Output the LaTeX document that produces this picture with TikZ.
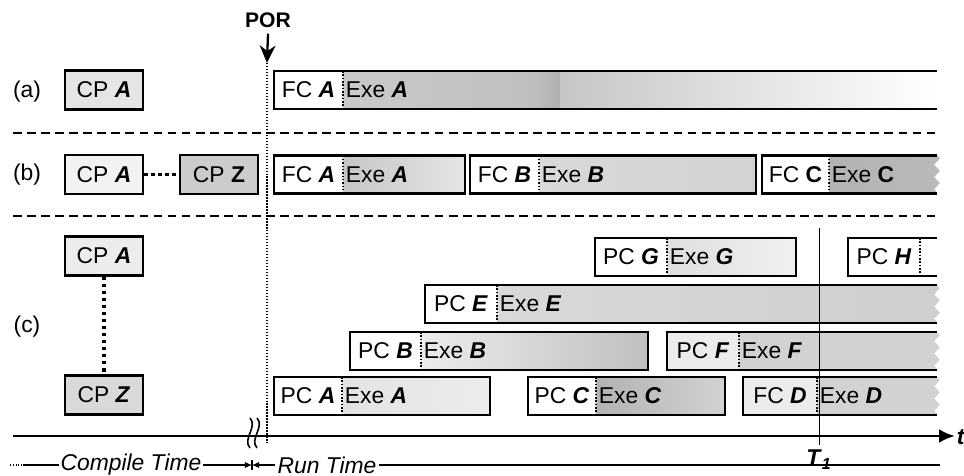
\documentclass[tikz,border=0pt]{standalone}
\usepackage{fontspec}
\setmainfont{Liberation Sans}
\usepackage{tikz}
\usetikzlibrary{arrows.meta,decorations.pathmorphing}
\newcommand{\bli}[1]{\textbf{\textit{#1}}}

\begin{document}
\begin{tikzpicture}[
  x=0.02cm, y=-0.02cm,
  font=\fontsize{13}{15}\selectfont,
  outl/.style={line width=1.3pt},
  divl/.style={densely dotted, line width=0.9pt},
  cpbox/.style={draw, line width=1.3pt, minimum width=1.56cm,
                minimum height=0.78cm, inner sep=0pt},
  cpdots/.style={dotted, line width=2pt},
  sepl/.style={line width=1pt, dash pattern=on 5pt off 3pt},
  zz/.style={decoration={zigzag, segment length=7pt, amplitude=1.6pt}},
  tline/.style={line width=0.6pt},
  lbl/.style={inner sep=1.5pt}
]
\useasboundingbox (0,0) rectangle (964,476);

% ---- X positions ----
\def\xpor{267}  % power-on reset
\def\xtone{819} % T_1
\def\xe{937}    % open bar ends

% ---- POR marker ----
\node[font=\fontsize{12}{14}\selectfont\bfseries] (por) at (268,20) {POR};
\coordinate (portip) at (\xpor,63);
\coordinate (porbot) at (\xpor,443);
\draw[line width=1.3pt, -{Stealth[length=10pt,width=9pt]}] (por.south) -- (portip);
\draw[divl, line width=0.7pt] (portip) -- (porbot);

% ---- row labels ----
\node (rowa) at (27,92) {(a)};
\node (rowb) at (27,175) {(b)};
\node (rowc) at (27,327) {(c)};

% ---- separators ----
\draw[sepl] (13,133) -- (940,133);
\draw[sepl] (13,216) -- (940,216);

% ----- (a) -----
\node[cpbox, fill=gray!20] (cpaA) at (104,90) {CP \bli{A}};
\fill[white] (274,71) rectangle (343,109);
\shade[left color=gray!42, right color=gray!50] (343,71) rectangle (530,109);
\shade[left color=gray!50, right color=gray!62] (530,71) rectangle (560,109);
\shade[left color=gray!45, right color=white] (560,71) rectangle (\xe,109);
\draw[divl] (343,71) -- (343,109);
\draw[outl] (\xe,71) -- (274,71) -- (274,109) -- (\xe,109);
\node[lbl] (aFC) at (308.5,90) {FC \bli{A}};
\node[lbl, anchor=west] (aExe) at (343,90) {Exe \bli{A}};

% ----- (b) -----
\node[cpbox, fill=gray!10] (cpbA) at (104,174.5) {CP \bli{A}};
\node[cpbox, fill=gray!40] (cpbZ) at (219,174.5) {CP \textbf{Z}};
\draw[cpdots] (cpbA.east) -- (cpbZ.west);

% ----- (c) -----
\node[cpbox, fill=gray!15] (cpcA) at (104,256) {CP \bli{A}};
\node[cpbox, fill=gray!30] (cpcZ) at (104,395) {CP \bli{Z}};
\draw[cpdots] (cpcA.south) -- (cpcZ.north);

% ---- closed bars ----
\foreach \nm/\xa/\xd/\xb/\yc/\la/\lb/\fillA/\shL/\shR in {
  bA/274/343/465/174.5/FC \bli{A}/Exe \bli{A}/white/gray!45/gray!20,
  bB/470/539/756/174.5/FC \bli{B}/Exe \bli{B}/white/gray!30/gray!35,
  cG/595/667/796/257/PC \bli{G}/Exe \bli{G}/white/gray!25/gray!12,
  cB/350/421/648/351/PC \bli{B}/Exe \bli{B}/white/gray!15/gray!50,
  cA/274/342/490/396/PC \bli{A}/Exe \bli{A}/white/gray!22/gray!15,
  cC/528/596/725/396/PC \bli{C}/Exe \bli{C}/white/gray!60/gray!35%
}{
  \fill[fill=\fillA] (\xa,\yc-19) rectangle (\xd,\yc+19);
  \shade[left color=\shL, right color=\shR] (\xd,\yc-19) rectangle (\xb,\yc+19);
  \draw[divl] (\xd,\yc-19) -- (\xd,\yc+19);
  \draw[outl] (\xa,\yc-19) rectangle (\xb,\yc+19);
  \node[lbl] (\nm-pc) at ({(\xa+\xd)/2},\yc) {\la};
  \node[lbl, anchor=west] (\nm-exe) at (\xd,\yc) {\lb};
}

% ---- open bars (still running) ----
\foreach \nm/\xa/\xd/\yc/\la/\lb/\fillA/\shL/\shR in {
  bC/762/829/174.5/FC \textbf{C}/Exe \textbf{C}/white/gray!60/gray!55,
  cH/848/920/257/PC \bli{H}//white/white/white,
  cE/425/497/304/PC \bli{E}/Exe \bli{E}/white/gray!30/gray!38,
  cF/667/739/351/PC \bli{F}/Exe \bli{F}/gray!15/gray!35/gray!35,
  cD/743/817/396/FC \bli{D}/Exe \bli{D}/gray!15/gray!35/gray!35%
}{
  \fill[fill=\fillA] (\xa,\yc-19) rectangle (\xd,\yc+19);
  \shade[left color=\shL, right color=\shR] (\xd,\yc-19) -- (\xe,\yc-19)
    decorate[zz] {-- (\xe,\yc+19)} -- (\xd,\yc+19) -- cycle;
  \draw[divl] (\xd,\yc-19) -- (\xd,\yc+19);
  \draw[outl] (\xe,\yc-19) -- (\xa,\yc-19) -- (\xa,\yc+19) -- (\xe,\yc+19);
  \node[lbl] (\nm-pc) at ({(\xa+\xd)/2},\yc) {\la};
  \node[lbl, anchor=west] (\nm-exe) at (\xd,\yc) {\lb};
}

% ---- T_1 ----
\coordinate (t1top) at (\xtone,228);
\coordinate (t1bot) at (\xtone,445);
\draw[line width=0.5pt] (t1top) -- (t1bot);
\node (t1) at (\xtone,460) {\bli{T}\textsubscript{\bli{1}}};

% ---- time axis ----
\coordinate (axl) at (13,436);
\coordinate (axr) at (955,436);
\draw[line width=1.7pt, -{Latex[length=0.32cm,width=0.28cm]}] (axl) -- (axr);
\node[inner sep=0pt] (tlab) at (961,437) {\bli{t}};
\draw[line width=0.9pt] (250,418) .. controls (258,427) and (242,439) .. (250,448);
\draw[line width=0.9pt] (257,418) .. controls (265,427) and (249,439) .. (257,448);

% ---- compile / run time ----
\node[inner sep=1pt, font=\fontsize{13}{15}\selectfont\itshape] (ctime) at (131,465) {Compile Time};
\node[inner sep=1pt, font=\fontsize{13}{15}\selectfont\itshape] (rtime) at (327,465) {Run Time};
\coordinate (tl0) at (10,465);
\coordinate (tl) at (23,465);
\coordinate (tsplit) at (252,465);
\coordinate (tr) at (940,465);
\draw[tline, densely dotted] (tl0) -- (tl);
\draw[tline] (tl) -- (ctime.west);
\draw[tline, -{Latex[length=4pt,width=3.5pt]}] (ctime.east) -- (tsplit);
\draw[tline, {Latex[length=4pt,width=3.5pt]}-] (tsplit) -- (rtime.west);
\draw[tline] (rtime.east) -- (tr);
\draw[tline] (252,460) -- (252,470);

\end{tikzpicture}
\end{document}
